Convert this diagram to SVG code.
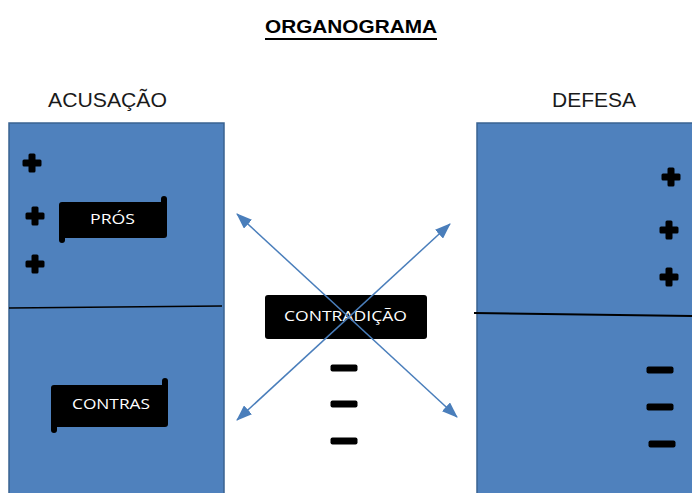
<svg xmlns="http://www.w3.org/2000/svg" width="692" height="493" viewBox="0 0 692 493">
<style>
.panel{fill:#4f81bd;stroke:#3a6391;stroke-width:1.5}
.lbl{font-family:"Liberation Sans",Arial,sans-serif;font-size:20px;fill:#1a1a1a}
.wt{font-family:"Open Sans","Liberation Sans",sans-serif;font-size:15px;fill:#ffffff}
.blk{fill:#000000}
.conn{stroke:#4a7ebb;stroke-width:1.5;fill:none;marker-start:url(#ah);marker-end:url(#ah)}
.div{stroke:#000000;fill:none}
</style>
<defs>
<marker id="ah" viewBox="0 0 16 12" refX="15" refY="6" markerWidth="16" markerHeight="12" markerUnits="userSpaceOnUse" orient="auto-start-reverse">
<path d="M0,0 L16,6 L0,12 z" fill="#4a7ebb"/>
</marker>
<g id="plus">
<rect x="-3.5" y="-9.5" width="7" height="19" rx="1.5" class="blk"/>
<rect x="-9.5" y="-3.5" width="19" height="7" rx="1.5" class="blk"/>
</g>
<rect id="minus" x="-13.5" y="-3.5" width="27" height="7" rx="2" class="blk"/>
</defs>
<rect width="692" height="493" fill="#ffffff"/>
<g id="title">
<text x="351" y="33" text-anchor="middle" font-family="Liberation Sans,Arial,sans-serif" font-size="19" font-weight="bold" fill="#000" textLength="172" lengthAdjust="spacingAndGlyphs">ORGANOGRAMA</text>
<rect x="265" y="38" width="172" height="2" fill="#000"/>
</g>
<g id="acusacao">
<text x="48" y="107" class="lbl" textLength="119" lengthAdjust="spacingAndGlyphs">ACUSAÇÃO</text>
<rect x="9" y="123" width="215" height="380" class="panel"/>
<path d="M9,308 L222,306" class="div" stroke-width="1.3"/>
<use href="#plus" x="32" y="163"/>
<use href="#plus" x="35" y="216"/>
<use href="#plus" x="35" y="264"/>
</g>
<g id="defesa">
<text x="552" y="107" class="lbl" textLength="84" lengthAdjust="spacingAndGlyphs">DEFESA</text>
<rect x="477" y="123" width="222" height="380" class="panel" stroke-width="3"/>
<path d="M474,313 L692,316" class="div" stroke-width="2"/>
<use href="#plus" x="671" y="177"/>
<use href="#plus" x="669" y="230"/>
<use href="#plus" x="669" y="277"/>
<use href="#minus" x="660" y="370"/>
<use href="#minus" x="660" y="407"/>
<use href="#minus" x="662" y="444"/>
</g>
<g id="pros">
<rect x="59" y="202" width="108" height="36" rx="3" class="blk"/>
<rect x="161" y="196" width="6" height="12" rx="3" class="blk"/>
<rect x="59" y="232" width="6" height="11" rx="3" class="blk"/>
<text x="90" y="224" class="wt" textLength="45" lengthAdjust="spacingAndGlyphs">PRÓS</text>
</g>
<g id="contras">
<rect x="51" y="385" width="117" height="42" rx="3" class="blk"/>
<rect x="162" y="378" width="6" height="12" rx="3" class="blk"/>
<rect x="51" y="422" width="6" height="11" rx="3" class="blk"/>
<text x="72" y="409" class="wt" textLength="78" lengthAdjust="spacingAndGlyphs">CONTRAS</text>
</g>
<g id="contradicao">
<rect x="265" y="295" width="162" height="44" rx="3" class="blk"/>
<text x="284" y="321" class="wt" font-size="16" textLength="123" lengthAdjust="spacingAndGlyphs">CONTRADIÇÃO</text>
<use href="#minus" x="344" y="368"/>
<use href="#minus" x="344" y="404"/>
<use href="#minus" x="344" y="441"/>
</g>
<g id="connectors">
<path d="M237,214 L457,417" class="conn"/>
<path d="M450,224 L237,420" class="conn"/>
</g>
</svg>
